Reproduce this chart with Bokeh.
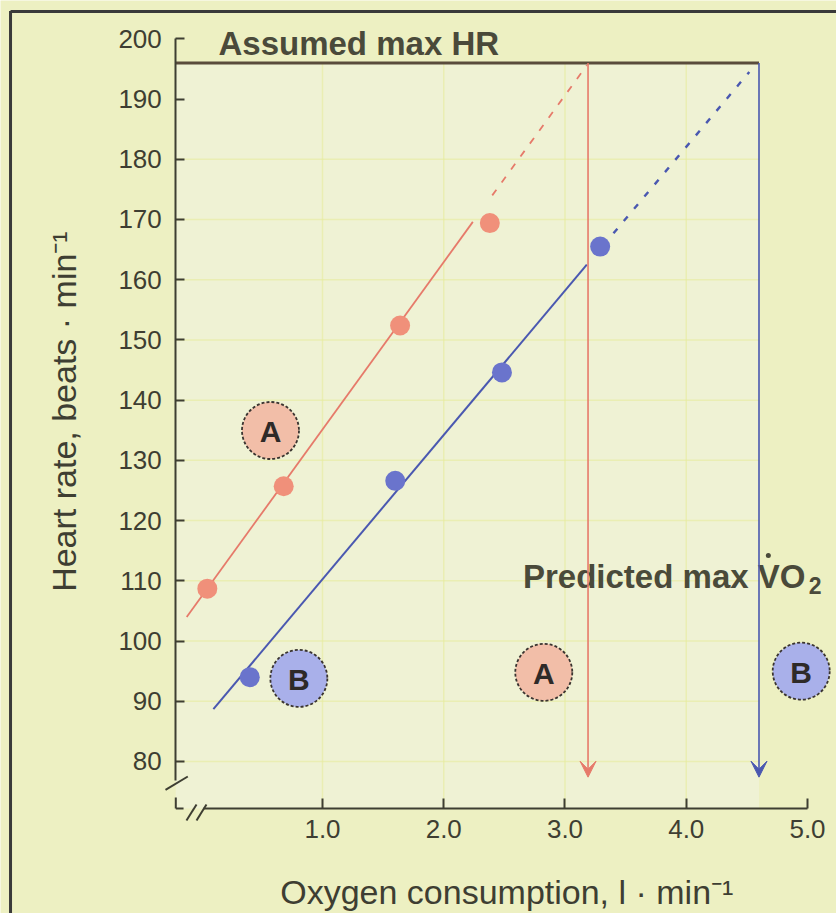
import math
from bokeh.plotting import figure
from bokeh.models import LinearAxis, FixedTicker, PrintfTickFormatter, Arrow, VeeHead
from bokeh.core.properties import value
from bokeh.embed import file_html
from bokeh.resources import INLINE

# ---------------- data ----------------
a_vo2 = [0.05, 0.68, 1.64, 2.38]          # subject A, l/min
a_hr = [108.7, 125.7, 152.4, 169.4]       # beats/min
b_vo2 = [0.40, 1.60, 2.48, 3.29]          # subject B, l/min
b_hr = [94.0, 126.6, 144.6, 165.5]
a_solid_vo2 = [-0.12, 2.24]               # fitted line A (measured part)
a_solid_hr = [104.0, 169.6]
a_dash_vo2 = [2.40, 3.18]                 # extrapolation of A to max HR
a_dash_hr = [174.0, 195.6]
b_solid_vo2 = [0.10, 3.18]                # fitted line B (measured part)
b_solid_hr = [88.7, 162.5]
b_dash_vo2 = [3.40, 4.52]                 # extrapolation of B to max HR
b_dash_hr = [167.7, 194.5]
max_hr = 196                              # assumed max HR
a_vo2max = 3.19                           # predicted max VO2, A
b_vo2max = 4.60                           # predicted max VO2, B
x_ticks = [1.0, 2.0, 3.0, 4.0, 5.0]
y_ticks = [80, 90, 100, 110, 120, 130, 140, 150, 160, 170, 180, 190, 200]
x_title = "Oxygen consumption, l · min⁻¹"
y_title = "Heart rate, beats · min⁻¹"

# ---------------- layout / style ----------------
BG = "#edf0c2"
INNER = "#eff2d4"
INK = "#3e3e32"
RED_DOT, RED_LINE, RED_FILL = "#f0907a", "#e67a6a", "#f2bea8"
BLUE_DOT, BLUE_LINE, BLUE_FILL = "#6a74cc", "#4a58b0", "#a9b0ea"
FONT = value("Liberation Sans")

X_AXIS_AT = 72.2      # HR value where the x axis is drawn
Y_AXIS_AT = -0.21     # VO2 value where the y axis is drawn

p = figure(width=836, height=913, x_range=(-1.6557, 5.2392), y_range=(54.76, 206.36),
           output_backend="svg", toolbar_location=None, title=None,
           x_axis_type=None, y_axis_type=None, min_border=0)
p.outline_line_color = None
p.background_fill_color = BG
p.border_fill_color = BG

# scan frame edges (left and top)
p.line(x=[-1.573, -1.573], y=[54.76, 204.6], line_color="#3a3a3a", line_width=3)
p.line(x=[-1.573, 5.2392], y=[204.55, 204.55], line_color="#3a3a3a", line_width=3)

# paler plotting area and faint grid of the printed paper
p.quad(left=[Y_AXIS_AT], right=[b_vo2max], bottom=[X_AXIS_AT], top=[max_hr],
       fill_color=INNER, line_color=None)
p.segment(x0=x_ticks[:-1], x1=x_ticks[:-1], y0=[X_AXIS_AT] * 4, y1=[max_hr] * 4,
          line_color="#e6eb9c", line_width=1.5, line_alpha=0.6)
p.segment(x0=[Y_AXIS_AT] * 11, x1=[b_vo2max] * 11, y0=y_ticks[:-2], y1=y_ticks[:-2],
          line_color="#e6eb9c", line_width=1.5, line_alpha=0.6)

# axes
yax = LinearAxis(fixed_location=Y_AXIS_AT, bounds=(76.9, 200), ticker=FixedTicker(ticks=y_ticks),
                 major_tick_in=9, major_tick_out=0, minor_tick_line_color=None,
                 axis_line_color=INK, axis_line_width=2, major_tick_line_color=INK,
                 major_tick_line_width=2, major_label_standoff=14,
                 major_label_text_font="Liberation Sans", major_label_text_font_size="26px",
                 major_label_text_color=INK)
p.add_layout(yax, "left")
xax = LinearAxis(fixed_location=X_AXIS_AT, bounds=(0.02, 5.0), ticker=FixedTicker(ticks=x_ticks),
                 formatter=PrintfTickFormatter(format="%.1f"),
                 major_tick_in=10, major_tick_out=0, minor_tick_line_color=None,
                 axis_line_color=INK, axis_line_width=2, major_tick_line_color=INK,
                 major_tick_line_width=2, major_label_standoff=12,
                 major_label_text_font="Liberation Sans", major_label_text_font_size="26px",
                 major_label_text_color=INK)
p.add_layout(xax, "below")

# axis break marks
p.segment(x0=[-0.2948, -0.122, -0.039, -0.21, -0.21], y0=[75.28, 70.2, 70.2, 74.02, X_AXIS_AT],
          x1=[-0.111, -0.039, 0.043, -0.21, -0.146], y1=[77.51, 72.86, 72.86, X_AXIS_AT, X_AXIS_AT],
          line_color=INK, line_width=2)

# axis titles
p.text(x=[2.52], y=[58.4], text=[x_title], text_font=FONT, text_font_size="34px",
       text_color=INK, text_align="center", text_baseline="alphabetic")
p.text(x=[-1.13], y=[138.1], text=[y_title], angle=math.pi / 2, text_font=FONT,
       text_font_size="34px", text_color=INK, text_align="center", text_baseline="alphabetic")

# assumed max HR
p.line(x=[Y_AXIS_AT, b_vo2max], y=[max_hr, max_hr], line_color="#5a4c3c", line_width=3)
p.text(x=[0.142], y=[199.2], text=["Assumed max HR"], text_font=FONT, text_font_style="bold",
       text_font_size="33px", text_color="#4a4a3a", text_baseline="alphabetic")

# predicted max VO2 arrows
for xv, col in ((a_vo2max, RED_LINE), (b_vo2max, BLUE_LINE)):
    p.add_layout(Arrow(end=VeeHead(size=16, fill_color=col, line_color=col),
                       x_start=xv, y_start=max_hr, x_end=xv, y_end=77.4,
                       line_color=col, line_width=1.6))

# fitted lines
p.line(x=a_solid_vo2, y=a_solid_hr, line_color=RED_LINE, line_width=1.8)
p.line(x=a_dash_vo2, y=a_dash_hr, line_color=RED_LINE, line_width=1.8, line_dash="7 9")
p.line(x=b_solid_vo2, y=b_solid_hr, line_color=BLUE_LINE, line_width=2)
p.line(x=b_dash_vo2, y=b_dash_hr, line_color=BLUE_LINE, line_width=2.4, line_dash="6 10")

# data points
p.scatter(x=a_vo2, y=a_hr, size=20, fill_color=RED_DOT, line_color=None)
p.scatter(x=b_vo2, y=b_hr, size=20, fill_color=BLUE_DOT, line_color=None)

# letter badges
lab_x = [0.571, 0.805, 2.825, 4.948]
lab_y = [134.96, 93.8, 94.8, 95.0]
lab_t = ["A", "B", "A", "B"]
lab_c = [RED_FILL, BLUE_FILL, RED_FILL, BLUE_FILL]
p.scatter(x=lab_x, y=lab_y, size=57, fill_color=lab_c, line_color="#3a3430",
          line_width=1.8, line_dash="3 2")
p.text(x=lab_x, y=lab_y, text=lab_t, text_font=FONT, text_font_style="bold",
       text_font_size="30px", text_color="#2e2a28", text_align="center",
       text_baseline="middle", y_offset=1)

# "Predicted max V̇O2"
p.text(x=[4.983], y=[110.7], text=["Predicted max VO"], text_font=FONT, text_font_style="bold",
       text_font_size="33px", text_color="#4a4a3a", text_align="right", text_baseline="alphabetic")
p.text(x=[5.01], y=[109.2], text=["2"], text_font=FONT, text_font_style="bold",
       text_font_size="23px", text_color="#4a4a3a", text_align="left", text_baseline="alphabetic")
p.scatter(x=[4.677], y=[114.2], size=5, fill_color="#4a4a3a", line_color=None)

open("out.html", "w").write(file_html(p, INLINE))
